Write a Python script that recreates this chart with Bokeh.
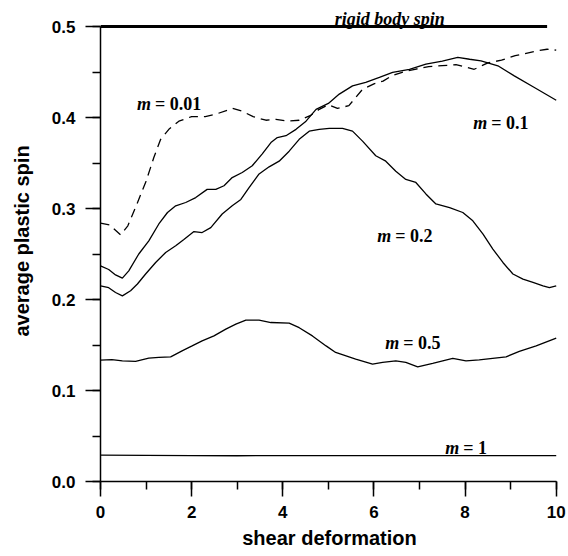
from bokeh.plotting import figure
from bokeh.models import Range1d, SingleIntervalTicker, PrintfTickFormatter, ColumnDataSource
from bokeh.core.properties import value
from bokeh.embed import file_html
from bokeh.resources import INLINE

# ---- data ----
m001_x = [0.0, 0.2, 0.44, 0.6, 0.8, 1.0, 1.17, 1.32, 1.5, 1.72, 2.0, 2.3, 2.55, 2.9, 3.1, 3.35,
          3.63, 3.85, 4.1, 4.36, 4.6, 4.8, 5.0, 5.2, 5.45, 5.75, 6.0, 6.2, 6.4, 6.7, 6.9, 7.2,
          7.5, 7.8, 8.05, 8.2, 8.5, 8.8, 9.1, 9.3, 9.55, 9.8, 10.0]
m001_y = [0.284, 0.282, 0.271, 0.281, 0.305, 0.330, 0.356, 0.376, 0.387, 0.396, 0.401, 0.401,
          0.404, 0.410, 0.407, 0.401, 0.397, 0.398, 0.396, 0.397, 0.402, 0.409, 0.414, 0.410,
          0.413, 0.431, 0.437, 0.440, 0.446, 0.451, 0.453, 0.456, 0.457, 0.458, 0.455, 0.453,
          0.460, 0.463, 0.468, 0.470, 0.473, 0.475, 0.474]

m01_x = [0.0, 0.18, 0.33, 0.48, 0.62, 0.84, 1.06, 1.28, 1.47, 1.65, 1.87, 2.09, 2.34, 2.53,
         2.71, 2.89, 3.11, 3.33, 3.55, 3.74, 3.88, 4.07, 4.29, 4.51, 4.73, 5.0, 5.24, 5.53,
         5.82, 6.12, 6.41, 6.78, 7.14, 7.5, 7.84, 8.1, 8.35, 8.72, 9.08, 9.52, 10.0]
m01_y = [0.237, 0.233, 0.227, 0.2235, 0.2315, 0.25, 0.2645, 0.283, 0.2956, 0.303, 0.3066,
         0.312, 0.321, 0.321, 0.325, 0.334, 0.3396, 0.347, 0.36, 0.3725, 0.378, 0.38, 0.387,
         0.396, 0.409, 0.4155, 0.4257, 0.4348, 0.4385, 0.444, 0.4495, 0.453, 0.4587, 0.462,
         0.466, 0.464, 0.4623, 0.4568, 0.4458, 0.433, 0.419]

m02_x = [0.0, 0.18, 0.33, 0.48, 0.66, 0.81, 0.99, 1.21, 1.43, 1.65, 1.83, 2.05, 2.23, 2.42,
         2.67, 2.89, 3.08, 3.26, 3.48, 3.70, 3.92, 4.14, 4.36, 4.58, 4.80, 5.02, 5.31, 5.53,
         5.75, 6.04, 6.26, 6.48, 6.70, 6.92, 7.14, 7.36, 7.66, 7.95, 8.17, 8.39, 8.61, 8.83,
         9.05, 9.27, 9.49, 9.71, 9.85, 10.0]
m02_y = [0.215, 0.213, 0.2077, 0.204, 0.2096, 0.217, 0.228, 0.2407, 0.2517, 0.259, 0.266,
         0.2747, 0.2736, 0.279, 0.294, 0.303, 0.310, 0.323, 0.338, 0.3458, 0.352, 0.363,
         0.376, 0.385, 0.387, 0.388, 0.388, 0.385, 0.374, 0.358, 0.352, 0.341, 0.332, 0.3286,
         0.316, 0.305, 0.301, 0.2956, 0.2865, 0.272, 0.2554, 0.2407, 0.228, 0.2224, 0.2187,
         0.215, 0.213, 0.215]

m05_x = [0.0, 0.25, 0.48, 0.77, 1.06, 1.28, 1.54, 1.79, 2.01, 2.23, 2.49, 2.75, 2.97, 3.19,
         3.48, 3.74, 4.14, 4.36, 4.65, 4.95, 5.16, 5.60, 5.97, 6.19, 6.48, 6.70, 6.96, 7.29,
         7.73, 8.02, 8.31, 8.9, 9.19, 9.56, 10.0]
m05_y = [0.1334, 0.134, 0.1326, 0.1319, 0.1356, 0.1363, 0.137, 0.1436, 0.149, 0.1546, 0.160,
         0.1675, 0.173, 0.1773, 0.1773, 0.1747, 0.174, 0.169, 0.160, 0.149, 0.1418, 0.1345,
         0.129, 0.1308, 0.1326, 0.1308, 0.126, 0.1297, 0.1352, 0.1326, 0.1337, 0.137, 0.1429,
         0.149, 0.1576]

m1_x = [0, 1, 2, 3, 4, 5, 6, 7, 8, 9, 10]
m1_y = [0.0290, 0.0286, 0.0284, 0.0283, 0.0284, 0.0285, 0.0284, 0.0285, 0.0285, 0.0284, 0.0284]

rigid_x = [0.0, 9.8]
rigid_y = [0.5, 0.5]

x_tick_step = 2
y_tick_step = 0.1

# text labels: italic part + upright part
lab_x = [1.151, 8.53, 6.425, 6.60, 7.917, 7.60]
lab_y = [0.4147, 0.3942, 0.270, 0.1524, 0.0371, 0.5079]
lab_ital = ["m", "m", "m", "m", "m", "rigid body spin"]
lab_rest = ["= 0.01", "= 0.1", "= 0.2", "= 0.5", "= 1", ""]

# ---- figure ----
p = figure(frame_width=458, frame_height=481,
           x_range=Range1d(0, 10.05), y_range=Range1d(0, 481 / 910),
           output_backend="svg", toolbar_location=None,
           min_border_left=100, min_border_right=8, min_border_top=0, min_border_bottom=75)
p.outline_line_color = None
p.xgrid.visible = False
p.ygrid.visible = False

p.xaxis.ticker = SingleIntervalTicker(interval=x_tick_step, num_minor_ticks=2)
p.yaxis.ticker = SingleIntervalTicker(interval=y_tick_step, num_minor_ticks=2)
p.yaxis.formatter = PrintfTickFormatter(format="%.1f")
p.xaxis.bounds = (0, 10)
p.yaxis.bounds = (0, 0.5)

for ax in (p.xaxis[0], p.yaxis[0]):
    ax.axis_line_width = 1.5
    ax.major_tick_line_width = 1.5
    ax.minor_tick_line_width = 1.5
    ax.major_tick_in = 0
    ax.major_tick_out = 15
    ax.minor_tick_in = 0
    ax.minor_tick_out = 8
    ax.major_label_text_font = "Liberation Sans"
    ax.major_label_text_font_style = "bold"
    ax.major_label_text_font_size = "17px"
    ax.major_label_text_color = "black"
    ax.axis_label_text_font = "Liberation Sans"
    ax.axis_label_text_font_style = "bold"
    ax.axis_label_text_font_size = "20px"
    ax.axis_label_text_color = "black"

p.xaxis.axis_label = "shear deformation"
p.yaxis.axis_label = "average plastic spin"
p.xaxis.major_label_standoff = 9
p.xaxis.axis_label_standoff = 6
p.yaxis.major_label_standoff = 10
p.yaxis.axis_label_standoff = 16

lw = 1.3
p.line(m001_x, m001_y, line_color="black", line_width=lw, line_dash="9 6")
p.multi_line(xs=[m01_x, m02_x, m05_x, m1_x], ys=[m01_y, m02_y, m05_y, m1_y],
             line_color="black", line_width=lw)
p.line(rigid_x, rigid_y, line_color="black", line_width=3)

src = ColumnDataSource(dict(x=lab_x, y=lab_y, ital=lab_ital, rest=lab_rest))
p.text(x="x", y="y", text="ital", source=src, text_font=value("Liberation Serif"),
       text_font_style="bold italic", text_font_size="18px", text_align="right",
       text_baseline="alphabetic", x_offset=-2, text_color="black")
p.text(x="x", y="y", text="rest", source=src, text_font=value("Liberation Serif"),
       text_font_style="bold", text_font_size="18px", text_align="left",
       text_baseline="alphabetic", x_offset=2, text_color="black")

open("out.html", "w").write(file_html(p, INLINE))
